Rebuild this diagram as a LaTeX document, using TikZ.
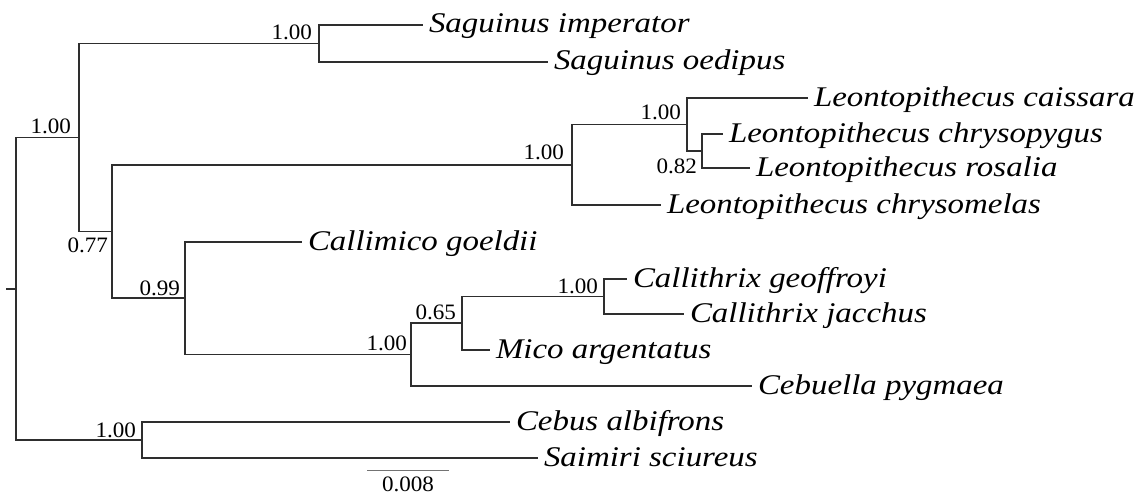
\documentclass[tikz,border=0pt]{standalone}
\usepackage{fontspec}
\setmainfont{Liberation Serif}
\newfontfamily\leaffont[FakeStretch=1.155]{Liberation Serif}
\newfontfamily\numfont[FakeStretch=1.05]{Liberation Serif}
\begin{document}
\begin{tikzpicture}[x=1pt,y=-1pt,
  branch/.style={draw=black!82, line width=1.8pt, line cap=rect},
  scalebar/.style={draw=black!55, line width=1pt},
  leaf/.style={anchor=west, inner xsep=7pt, inner ysep=0pt, outer sep=0pt,
    text height=20pt, text depth=4pt,
    font=\leaffont\itshape\fontsize{28.5}{31}\selectfont},
  support/.style={anchor=base east, inner sep=0pt, outer sep=0pt,
    font=\numfont\fontsize{22}{25}\selectfont}]
\useasboundingbox (0,0) rectangle (1145,495);

% internal nodes
\coordinate (rootstub) at (7,288.7);
\coordinate (root) at (16,288.7);
\coordinate (nA) at (79,137.4);
\coordinate (nSag) at (319,43.5);
\coordinate (nB) at (112,231.4);
\coordinate (nLeo) at (572,164.75);
\coordinate (nLc) at (687,124.5);
\coordinate (nLr) at (702,151);
\coordinate (n99) at (185,298);
\coordinate (nMid) at (411,354.5);
\coordinate (n65) at (462,323);
\coordinate (nCal) at (604,296.5);
\coordinate (nCeb) at (142,440);

% leaves
\node[leaf] (simp) at (422,25)  {Saguinus imperator};
\node[leaf] (soed) at (547,62)  {Saguinus oedipus};
\node[leaf] (lcai) at (807,98)  {Leontopithecus caissara};
\node[leaf] (lchp) at (722,134) {Leontopithecus chrysopygus};
\node[leaf] (lros) at (749,168) {Leontopithecus rosalia};
\node[leaf] (lchm) at (660,205) {Leontopithecus chrysomelas};
\node[leaf] (cgoe) at (301,242) {Callimico goeldii};
\node[leaf] (cgeo) at (626,279) {Callithrix geoffroyi};
\node[leaf] (cjac) at (683,314) {Callithrix jacchus};
\node[leaf] (marg) at (489,350) {Mico argentatus};
\node[leaf] (cpyg) at (751,386) {Cebuella pygmaea};
\node[leaf] (calb) at (509,422) {Cebus albifrons};
\node[leaf] (ssci) at (537,458) {Saimiri sciureus};

% branches
\draw[branch] (rootstub) -- (root);
\draw[branch] (root) |- (nA);
\draw[branch] (root) |- (nCeb);
\draw[branch] (nA) |- (nSag);
\draw[branch] (nA) |- (nB);
\draw[branch] (nSag) |- (simp.west);
\draw[branch] (nSag) |- (soed.west);
\draw[branch] (nB) |- (nLeo);
\draw[branch] (nB) |- (n99);
\draw[branch] (nLeo) |- (nLc);
\draw[branch] (nLeo) |- (lchm.west);
\draw[branch] (nLc) |- (lcai.west);
\draw[branch] (nLc) |- (nLr);
\draw[branch] (nLr) |- (lchp.west);
\draw[branch] (nLr) |- (lros.west);
\draw[branch] (n99) |- (cgoe.west);
\draw[branch] (n99) |- (nMid);
\draw[branch] (nMid) |- (n65);
\draw[branch] (nMid) |- (cpyg.west);
\draw[branch] (n65) |- (nCal);
\draw[branch] (n65) |- (marg.west);
\draw[branch] (nCal) |- (cgeo.west);
\draw[branch] (nCal) |- (cjac.west);
\draw[branch] (nCeb) |- (calb.west);
\draw[branch] (nCeb) |- (ssci.west);

% support values
\node[support] (sA)   at (71,133)   {1.00};
\node[support] (sSag) at (312,39.5) {1.00};
\node[support] (sB)   at (108,252.5){0.77};
\node[support] (s99)  at (180,295.5){0.99};
\node[support] (sLeo) at (564,159)  {1.00};
\node[support] (sLc)  at (681,119)  {1.00};
\node[support] (sLr)  at (697,173.5){0.82};
\node[support] (sCal) at (598,293)  {1.00};
\node[support] (s65)  at (456,319)  {0.65};
\node[support] (sMid) at (407,350)  {1.00};
\node[support] (sCeb) at (136,437)  {1.00};

% scale bar
\coordinate (sbL) at (367,470);
\coordinate (sbR) at (449,470);
\draw[scalebar] (sbL) -- (sbR);
\node[support, anchor=base] (sbT) at (408,491.5) {0.008};
\end{tikzpicture}
\end{document}
